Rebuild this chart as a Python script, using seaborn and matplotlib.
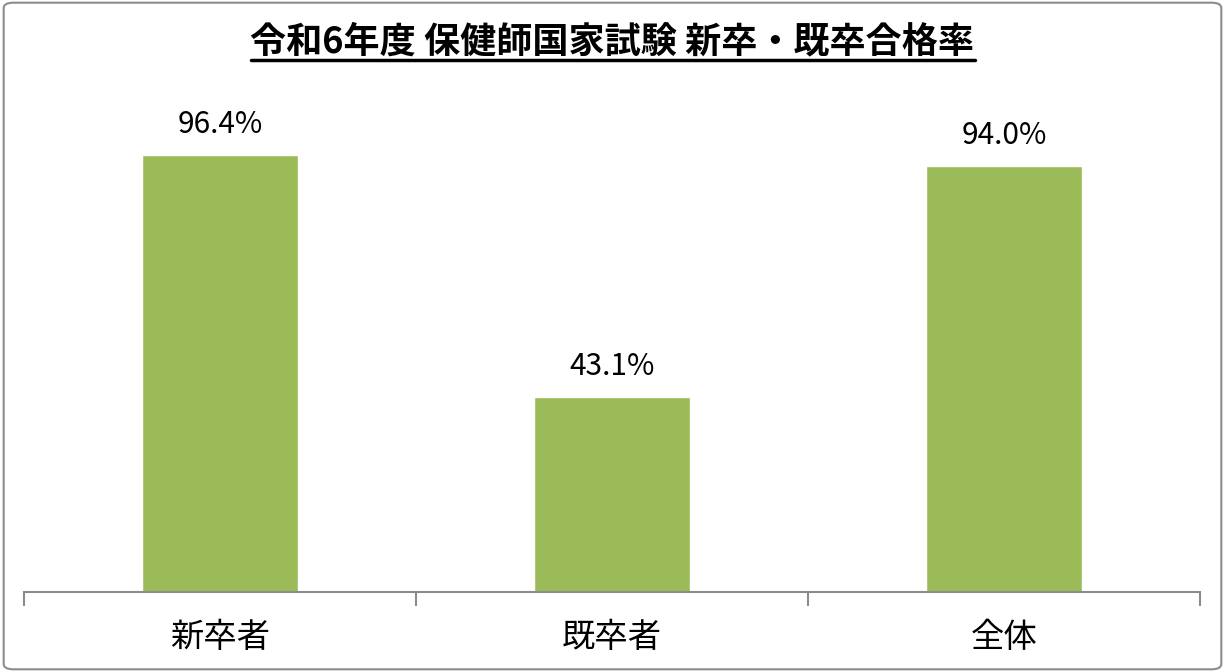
import pandas as pd
import seaborn as sns
import matplotlib.pyplot as plt
from matplotlib.lines import Line2D
from matplotlib.patches import FancyBboxPatch

title = '令和6年度 保健師国家試験 新卒・既卒合格率'
categories = ['新卒者', '既卒者', '全体']
pass_rates = [96.4, 43.1, 94.0]

df = pd.DataFrame({'category': categories, 'rate': pass_rates})

sns.set_theme(style='white')
plt.rcParams['font.family'] = ['Noto Sans CJK JP', 'DejaVu Sans']

fig = plt.figure(figsize=(12.25, 6.72), dpi=100)
ax = fig.add_axes([24 / 1225, 80 / 672, 1176 / 1225, 544 / 672])

sns.barplot(data=df, x='category', y='rate', color='#9BBB59', saturation=1,
            width=0.4, ax=ax)
ax.set_xlim(-0.5, 2.5)
ax.set_ylim(0, 120)

for i, v in enumerate(pass_rates):
    ax.text(i, v + 3.2, f'{v:.1f}%', ha='center', va='bottom', fontsize=21.5, color='black')

ax.set_xlabel('')
ax.set_ylabel('')
ax.set_yticks([])
ax.set_xticks([0, 1, 2])
ax.set_xticklabels(categories, fontsize=24, color='black')
ax.tick_params(axis='x', length=0, pad=20)
ax.set_xticks([-0.5, 0.5, 1.5, 2.5], minor=True)
ax.tick_params(axis='x', which='minor', length=10, width=1.5, color='#8c8c8c', direction='out', bottom=True)
for side in ['top', 'right', 'left']:
    ax.spines[side].set_visible(False)
ax.spines['bottom'].set_color('#8c8c8c')
ax.spines['bottom'].set_linewidth(1.5)

# title with underline
t = fig.text(0.5, 1 - 42 / 672, title, ha='center', va='center', fontsize=26,
             fontweight='bold', color='black')
fig.canvas.draw()
bb = t.get_window_extent(renderer=fig.canvas.get_renderer())
y_line = 672 - 60
fig.add_artist(Line2D([bb.x0 / 1225, bb.x1 / 1225], [y_line / 672, y_line / 672],
                      transform=fig.transFigure, color='black', linewidth=2.5))

# outer frame
fig.add_artist(FancyBboxPatch((0.003, 0.004), 0.994, 0.992, boxstyle='round,pad=0,rounding_size=0.008',
                              transform=fig.transFigure, fill=False, edgecolor='#8c8c8c', linewidth=1.5))

fig.savefig('out.png', dpi=100)
